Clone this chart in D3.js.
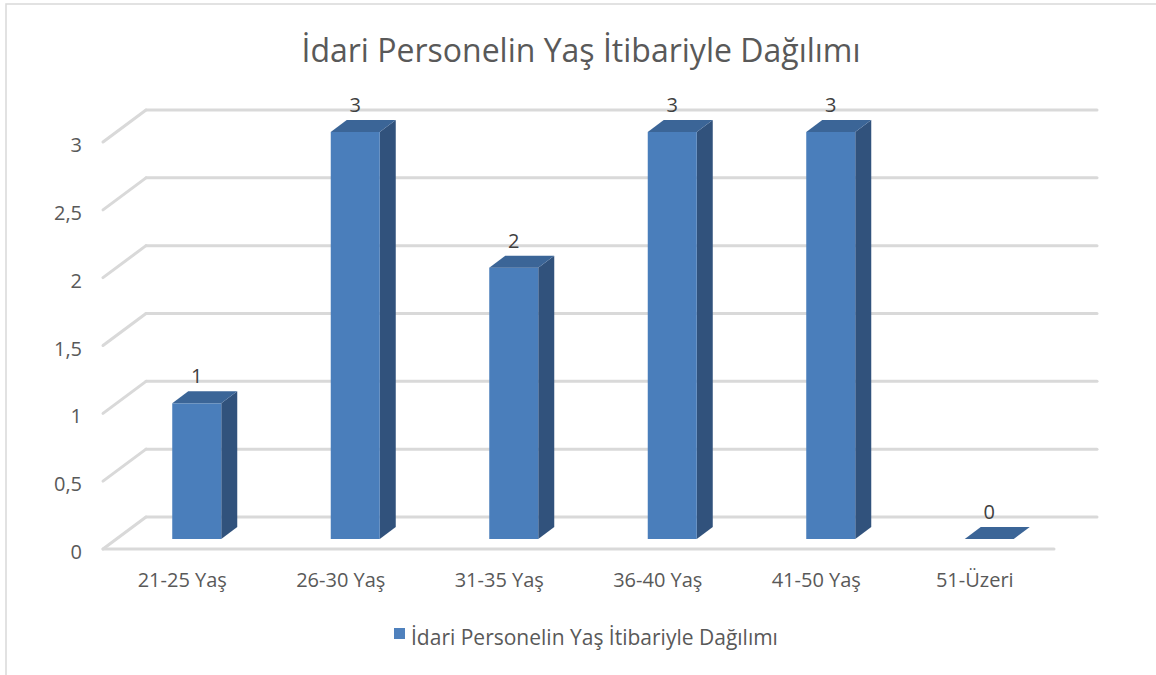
<!DOCTYPE html>
<meta charset="utf-8">
<style>
    body { margin: 0; background: #fff; }
    text {
        font-family: "Open Sans", Lato, sans-serif;
        fill: #595959;
    }
    .grid line { stroke: #d9d9d9; stroke-width: 3px; stroke-linecap: round; }
    .dlabel { fill: #404040; font-size: 20px; }
</style>
<body>
    <svg width="1156" height="675"></svg>
</body>
<script src="https://d3js.org/d3.v7.min.js"></script>
<script>
    // data
    var categories = ["21-25 Yaş", "26-30 Yaş", "31-35 Yaş", "36-40 Yaş", "41-50 Yaş", "51-Üzeri"];
    var values = [1, 3, 2, 3, 3, 0];
    var yTicks = [0, 0.5, 1, 1.5, 2, 2.5, 3];
    var seriesName = "İdari Personelin Yaş İtibariyle Dağılımı";

    var svg = d3.select("svg"),
        width = +svg.attr("width"),
        height = +svg.attr("height");

    // chart border (only top/left visible)
    svg.append("rect")
        .attr("x", 6).attr("y", 4)
        .attr("width", width + 20).attr("height", height + 20)
        .attr("fill", "none")
        .attr("stroke", "#d9d9d9")
        .attr("stroke-width", 1.5);

    // back wall geometry
    var wallLeft = 146, wallRight = 1097;
    var depthX = -43, depthY = 32;   // floor depth (back -> front)

    var x = d3.scaleBand()
        .domain(categories)
        .range([wallLeft, wallRight]);

    var y = d3.scaleLinear()
        .domain([0, 3])
        .range([517, 110]);

    // title
    svg.append("text")
        .attr("x", 581).attr("y", 62)
        .attr("text-anchor", "middle")
        .style("font-size", "32px")
        .text(seriesName);

    // gridlines: back wall + left side
    var grid = svg.append("g").attr("class", "grid");
    yTicks.forEach(function (t) {
        var gy = y(t);
        grid.append("line")
            .attr("x1", wallLeft).attr("y1", gy)
            .attr("x2", wallRight).attr("y2", gy);
        grid.append("line")
            .attr("x1", wallLeft).attr("y1", gy)
            .attr("x2", wallLeft + depthX).attr("y2", gy + depthY);
    });
    // floor front edge
    grid.append("line")
        .attr("x1", wallLeft + depthX).attr("y1", y(0) + depthY)
        .attr("x2", wallRight + depthX).attr("y2", y(0) + depthY);

    // y axis labels
    svg.append("g").selectAll("text")
        .data(yTicks)
        .enter().append("text")
        .attr("x", 82)
        .attr("y", function (d) { return y(d) + depthY + 10; })
        .attr("text-anchor", "end")
        .style("font-size", "20px")
        .text(function (d) { return String(d).replace(".", ","); });

    // bars (3D columns)
    var barW = 49, barDx = 16, barDy = -12, barFront = 22;
    var barColor = { front: "#4a7ebb", side: "#31527c", top: "#3b6597" };
    var barH = function (v) { return y(0) - y(v); };

    var bars = svg.append("g").selectAll("g")
        .data(values)
        .enter().append("g")
        .attr("transform", function (d, i) {
            var cx = x(categories[i]) + x.bandwidth() / 2 - 28.5;
            return "translate(" + (cx - barW / 2) + "," + (y(0) + barFront) + ")";
        });

    // side face
    bars.append("path")
        .attr("fill", barColor.side)
        .attr("d", function (d) {
            var h = barH(d);
            return "M" + barW + ",0 L" + (barW + barDx) + "," + barDy +
                " L" + (barW + barDx) + "," + (barDy - h) +
                " L" + barW + "," + (-h) + "Z";
        });
    // front face
    bars.append("rect")
        .attr("fill", barColor.front)
        .attr("x", 0)
        .attr("y", function (d) { return -barH(d); })
        .attr("width", barW)
        .attr("height", function (d) { return barH(d); });
    // top face
    bars.append("path")
        .attr("fill", barColor.top)
        .attr("d", function (d) {
            var h = barH(d);
            return "M0," + (-h) + " L" + barDx + "," + (barDy - h) +
                " L" + (barW + barDx) + "," + (barDy - h) +
                " L" + barW + "," + (-h) + "Z";
        });
    // data labels
    bars.append("text")
        .attr("class", "dlabel")
        .attr("x", barW / 2)
        .attr("y", function (d) { return barDy - barH(d) - 8; })
        .attr("text-anchor", "middle")
        .text(function (d) { return d; });

    // category labels
    svg.append("g").selectAll("text")
        .data(categories)
        .enter().append("text")
        .attr("x", function (d) { return x(d) + x.bandwidth() / 2 + depthX; })
        .attr("y", 587)
        .attr("text-anchor", "middle")
        .style("font-size", "20px")
        .text(function (d) { return d; });

    // legend
    var legend = svg.append("g").attr("transform", "translate(394,628)");
    legend.append("rect")
        .attr("width", 11).attr("height", 11)
        .attr("fill", "#4f81bd");
    legend.append("text")
        .attr("x", 17).attr("y", 17)
        .style("font-size", "21px")
        .text(seriesName);
</script>
